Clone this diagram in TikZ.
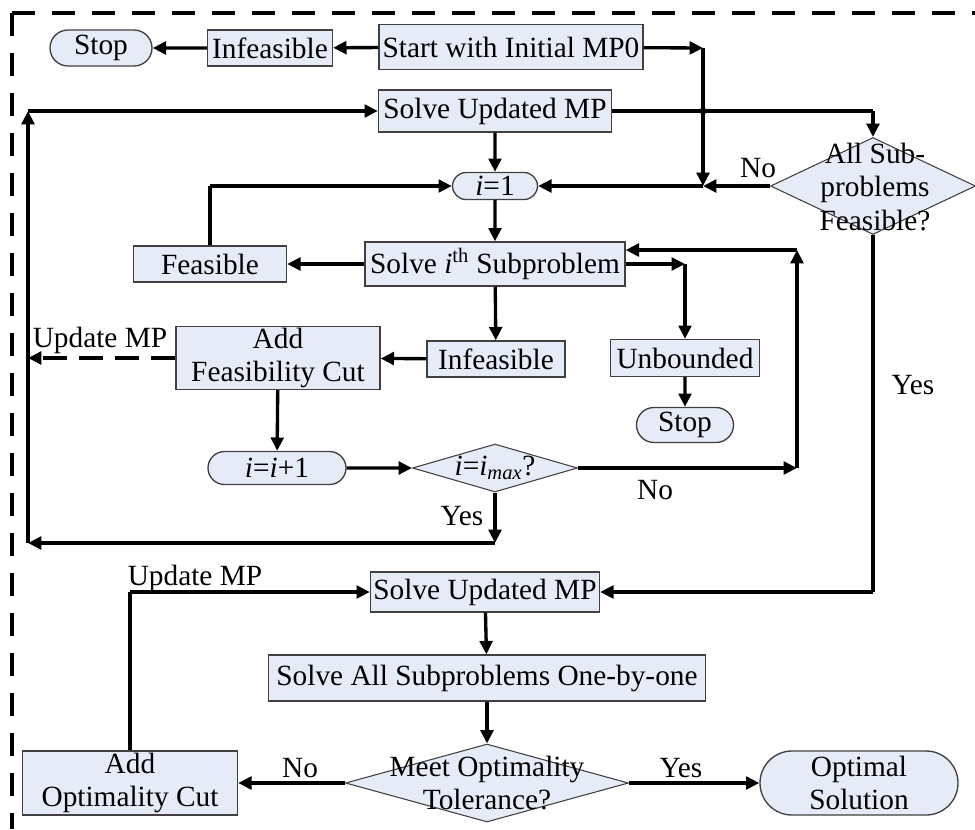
\documentclass[tikz,border=0pt]{standalone}
\usepackage{fontspec}
\setmainfont{Liberation Serif}
\usetikzlibrary{shapes.geometric,shapes.misc,arrows.meta}
\definecolor{boxfill}{HTML}{E6ECF7}
\definecolor{boxline}{HTML}{404040}

\begin{document}
\begin{tikzpicture}[x=0.75pt,y=-0.75pt,
  font=\fontsize{22}{25}\selectfont,
  every node/.style={inner sep=0pt},
  proc/.style={draw=boxline, fill=boxfill, line width=1pt, rectangle, align=center},
  term/.style={draw=boxline, fill=boxfill, line width=1pt, rounded rectangle, align=center},
  dec/.style={draw=boxline, fill=boxfill, line width=0.8pt, diamond, inner sep=0pt},
  flow/.style={line width=2.5pt, -{Triangle[length=10pt,width=9.5pt]}},
  link/.style={line width=2.5pt},
  frame/.style={line width=2.8pt, dash pattern=on 17pt off 13pt}
]
\useasboundingbox (0,0) rectangle (975,829);

% outer dashed frame (top and left edges, both starting at the corner)
\draw[frame] (12,13) -- (975,13);
\draw[frame] (12,13) -- (12,829);

% ---------- feasibility stage ----------
\node[term, minimum width=76.5pt, minimum height=27pt] (stop1) at (101,48) {Stop};
\node[proc, minimum width=93.75pt, minimum height=27pt] (inf1) at (270,48) {Infeasible};
\node[proc, minimum width=198pt, minimum height=33.75pt] (start) at (511,47) {Start with Initial MP0};
\node[proc, minimum width=174.75pt, minimum height=31.5pt] (mp1) at (495,111) {Solve Updated MP};
\node[dec, minimum width=153.75pt, minimum height=72.75pt] (allf) at (873,186) {};
\node[align=center] (allft) at (875,187) {All Sub-\\problems\\Feasible?};
\node[term, minimum width=63.75pt, minimum height=20.25pt] (i1) at (495,186) {\textit{i}=1};
\node[proc, minimum width=195pt, minimum height=33pt] (sub) at (495,264) {Solve \textit{i}\textsuperscript{th} Subproblem};
\node[proc, minimum width=114.75pt, minimum height=27pt] (feas) at (210,264) {Feasible};
\node[proc, minimum width=103.5pt, minimum height=27pt] (inf2) at (496,359) {Infeasible};
\node[proc, minimum width=111.75pt, minimum height=27.75pt] (unb) at (685,358) {Unbounded};
\node[term, minimum width=72.75pt, minimum height=26.25pt] (stop2) at (685,425) {Stop};
\node[proc, minimum width=153pt, minimum height=47.25pt] (addf) at (278,358) {Add\\Feasibility Cut};
\node[term, minimum width=103.5pt, minimum height=24.75pt] (inc) at (277,468) {\textit{i}=\textit{i}+1};
\node[dec, minimum width=123.75pt, minimum height=36pt] (imax) at (495,468) {};
\node (imaxt) at (495,468) {\textit{i}=\textit{i}\textsubscript{\textit{max}}?};

% ---------- optimality stage ----------
\node[proc, minimum width=171.75pt, minimum height=30pt] (mp2) at (485,592) {Solve Updated MP};
\node[proc, minimum width=327.75pt, minimum height=34.5pt] (all) at (487,678) {Solve All Subproblems One-by-one};
\node[dec, minimum width=212.25pt, minimum height=58.5pt] (opt) at (487,783) {};
\node[align=center] (optt) at (487,783) {Meet Optimality\\Tolerance?};
\node[proc, minimum width=161.25pt, minimum height=48pt] (addo) at (130,783) {Add\\Optimality Cut};
\node[term, minimum width=148.5pt, minimum height=48pt] (sol) at (859,783) {Optimal\\Solution};

% bend points of the connectors
\coordinate (c1) at (703,48);
\coordinate (c2) at (703,186);
\coordinate (c3) at (allf.north |- mp1.east);
\coordinate (c4) at (feas.north |- i1.west);
\coordinate (c5) at (unb.north |- sub.east);
\coordinate (c6) at (797,468);
\coordinate (c7) at (797,250);
\coordinate (c8) at (495,543);
\coordinate (c9) at (28,543);
\coordinate (c10) at (28,111);
\coordinate (c11) at (28,358);
\coordinate (c12) at (allf.south |- mp2.east);
\coordinate (c13) at (addo.north |- mp2.west);

% connectors
\draw[flow] (start) -- (inf1);
\draw[flow] (inf1) -- (stop1);
\draw[flow] (start) -- (c1);
\draw[flow] (c1) -- (c2);
\draw[link] (mp1) -- (c3);
\draw[flow] (c3) -- (allf.north);
\fill (703,111) circle (2.6pt);
\draw[flow] (allf.west) -- (c2);
\draw[flow] (c2) -- (i1.east);
\draw[flow] (mp1) -- (i1);
\draw[flow] (i1) -- (sub);
\draw[flow] (sub) -- (feas);
\draw[link] (feas.north) -- (c4);
\draw[flow] (c4) -- (i1.west);
\draw[flow] (sub.east) -- (c5);
\draw[flow] (c5) -- (unb.north);
\draw[flow] (unb) -- (stop2);
\draw[flow] (sub) -- (inf2);
\draw[flow] (inf2) -- (addf);
\draw[flow, dash pattern=on 18pt off 9pt] (addf.west) -- (c11);
\draw[flow] (addf) -- (inc);
\draw[flow] (inc) -- (imax.west);
\draw[flow] (imax.east) -- (c6);
\draw[flow] (c6) -- (c7);
\draw[flow] (c7) -- (c7 -| sub.east);
\draw[flow] (imax.south) -- (c8);
\draw[flow] (c8) -- (c9);
\draw[flow] (c9) -- (c10);
\draw[flow] (c10) -- (mp1.west);
\draw[link] (allf.south) -- (c12);
\draw[flow] (c12) -- (mp2.east);
\draw[flow] (mp2) -- (all);
\draw[flow] (all) -- (opt.north);
\draw[flow] (opt.west) -- (addo.east);
\draw[flow] (opt.east) -- (sol.west);
\draw[link] (addo.north) -- (c13);
\draw[flow] (c13) -- (mp2.west);

% branch labels
\node (no1) at (758,168) {No};
\node (yes1) at (913,385) {Yes};
\node (upd1) at (100,340) {Update MP};
\node (no2) at (655,490) {No};
\node (yes2) at (462,516) {Yes};
\node (upd2) at (195,578) {Update MP};
\node (no3) at (300,768) {No};
\node (yes3) at (681,768) {Yes};
\end{tikzpicture}
\end{document}
